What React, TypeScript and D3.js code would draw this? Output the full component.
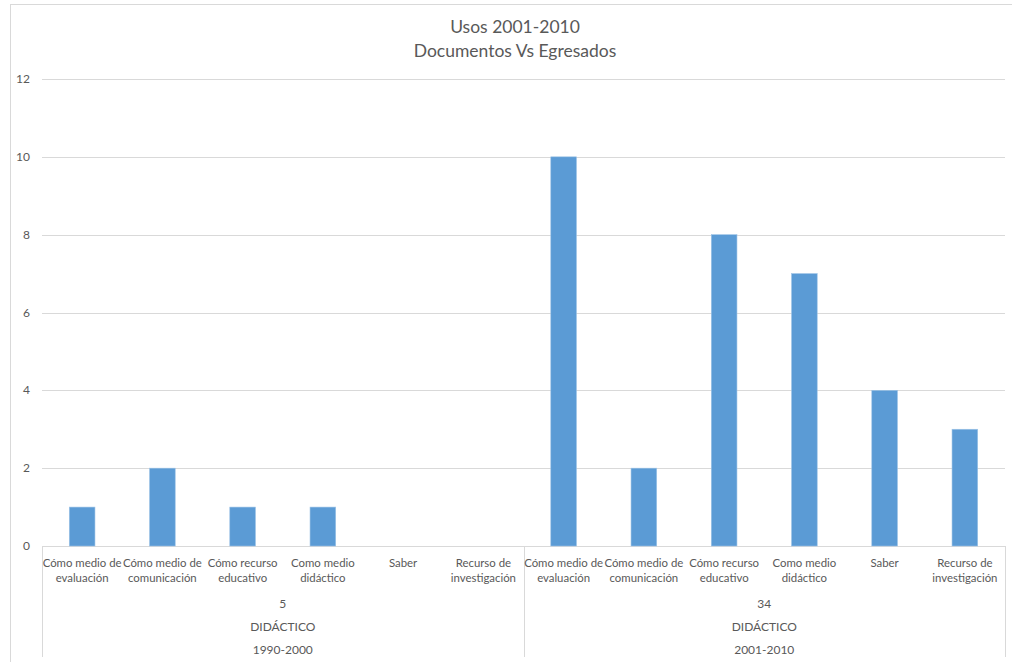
import React from "react";
import * as d3 from "d3";

const usos = [
  ["Cómo medio de", "evaluación"],
  ["Cómo medio de", "comunicación"],
  ["Cómo recurso", "educativo"],
  ["Como medio", "didáctico"],
  ["Saber"],
  ["Recurso de", "investigación"],
];
const groups = [
  { total: "5", tipo: "DIDÁCTICO", periodo: "1990-2000" },
  { total: "34", tipo: "DIDÁCTICO", periodo: "2001-2010" },
];
const values1990 = [1, 2, 1, 1, 0, 0];
const values2001 = [10, 2, 8, 7, 4, 3];
const yTicks = [0, 2, 4, 6, 8, 10, 12];
const titleLines = ["Usos 2001-2010", "Documentos Vs Egresados"];

const W = 1012;
const H = 662;
const left = 42;
const right = 1005;
const top = 79;
const bottom = 546;
const font = "Lato, 'Open Sans', sans-serif";
const textColor = "#595959";

export default function App() {
  const allValues = [values1990, values2001];
  const items = allValues.flatMap((vals, g) =>
    vals.map((v, i) => ({ key: `${g}-${i}`, g, i, v, label: usos[i] }))
  );
  const x = d3
    .scaleBand<string>()
    .domain(items.map((d) => d.key))
    .range([left, right])
    .paddingInner(0.68)
    .paddingOuter(0.34);
  const step = (right - left) / items.length;
  const y = d3.scaleLinear().domain([0, 12]).range([bottom, top]);
  const groupW = (right - left) / groups.length;

  return (
    <svg
      width={W}
      height={H}
      style={{ position: "absolute", left: 0, top: 0, background: "#fff" }}
      fontFamily={font}
    >
      <rect x={10.5} y={4.5} width={W + 10} height={H + 10} fill="#fff" stroke="#d9d9d9" />
      {titleLines.map((t, k) => (
        <text
          key={t}
          x={515}
          y={33 + k * 24}
          textAnchor="middle"
          fontSize={17.5}
          fill={textColor}
        >
          {t}
        </text>
      ))}
      {yTicks.map((t) => (
        <g key={t}>
          <line
            x1={left}
            x2={right}
            y1={Math.round(y(t)) + 0.5}
            y2={Math.round(y(t)) + 0.5}
            stroke="#d9d9d9"
          />
          <text
            x={30}
            y={y(t) + 4}
            textAnchor="end"
            fontSize={12}
            fill={textColor}
          >
            {t}
          </text>
        </g>
      ))}
      {items.map((d) => (
        <rect
          key={d.key}
          x={x(d.key)}
          y={y(d.v)}
          width={x.bandwidth()}
          height={bottom - y(d.v)}
          fill="#5B9BD5"
          stroke="#9DC3E6"
          strokeWidth={0.6}
        />
      ))}
      {[0, 1, 2].map((k) => (
        <line
          key={k}
          x1={Math.round(left + k * groupW) + 0.5}
          x2={Math.round(left + k * groupW) + 0.5}
          y1={bottom}
          y2={657}
          stroke="#d9d9d9"
        />
      ))}
      {items.map((d, idx) =>
        d.label.map((ln, k) => (
          <text
            key={d.key + k}
            x={left + step * (idx + 0.5)}
            y={567 + k * 15}
            textAnchor="middle"
            fontSize={11.4}
            fill={textColor}
          >
            {ln}
          </text>
        ))
      )}
      {groups.map((g, k) => {
        const cx = left + groupW * (k + 0.5);
        return (
          <g key={k}>
            <text x={cx} y={608} textAnchor="middle" fontSize={12} fill={textColor}>
              {g.total}
            </text>
            <text x={cx} y={631} textAnchor="middle" fontSize={12} fill={textColor}>
              {g.tipo}
            </text>
            <text x={cx} y={654} textAnchor="middle" fontSize={12} fill={textColor}>
              {g.periodo}
            </text>
          </g>
        );
      })}
    </svg>
  );
}
